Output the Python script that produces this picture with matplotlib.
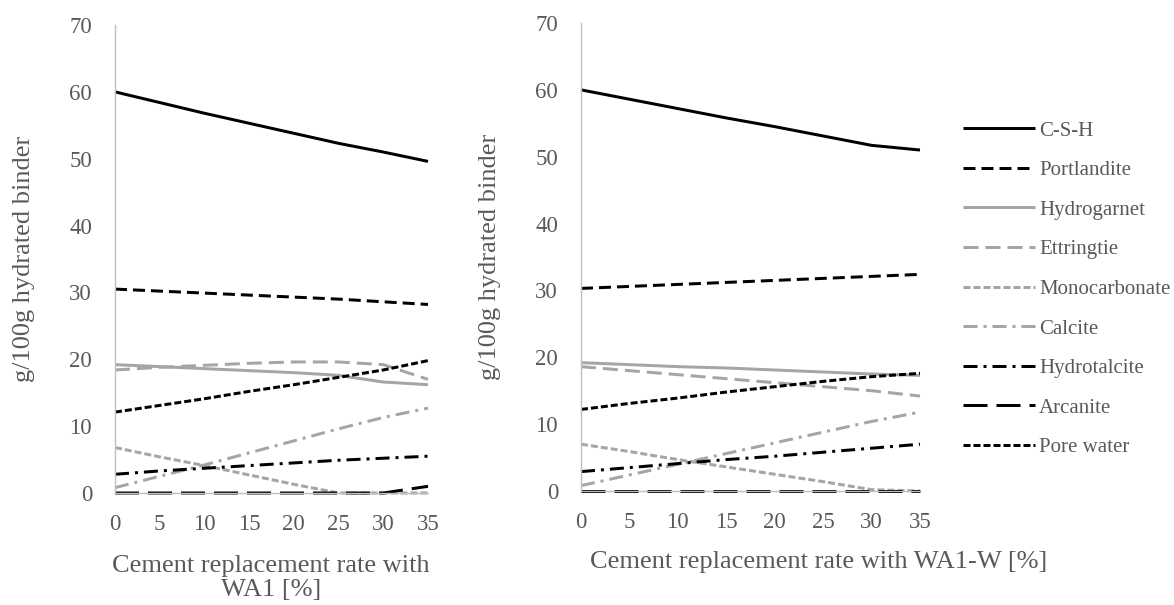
import matplotlib
matplotlib.use("Agg")
import matplotlib.pyplot as plt

plt.rcParams['font.family'] = ['Liberation Serif', 'DejaVu Serif']
plt.rcParams['lines.scale_dashes'] = False

rates = [0, 5, 10, 15, 20, 25, 30, 35]
x_ticks = [0, 5, 10, 15, 20, 25, 30, 35]
y_ticks = [0, 10, 20, 30, 40, 50, 60, 70]

names = ["C-S-H", "Portlandite", "Hydrogarnet", "Ettringtie", "Monocarbonate",
         "Calcite", "Hydrotalcite", "Arcanite", "Pore water"]

# WA1 (left)
csh_wa1 = [60.0, 58.4, 56.8, 55.3, 53.8, 52.3, 51.0, 49.6]
port_wa1 = [30.5, 30.2, 29.9, 29.6, 29.3, 29.0, 28.6, 28.2]
hydg_wa1 = [19.2, 18.9, 18.6, 18.3, 18.0, 17.6, 16.6, 16.2]
ettr_wa1 = [18.4, 18.8, 19.1, 19.4, 19.6, 19.6, 19.2, 17.0]
mono_wa1 = [6.8, 5.4, 4.1, 2.7, 1.3, 0.0, 0.0, 0.0]
calc_wa1 = [0.8, 2.5, 4.2, 6.0, 7.8, 9.6, 11.3, 12.7]
htal_wa1 = [2.8, 3.3, 3.7, 4.1, 4.5, 4.9, 5.2, 5.5]
arca_wa1 = [0.0, 0.0, 0.0, 0.0, 0.0, 0.0, 0.0, 1.0]
pore_wa1 = [12.1, 13.1, 14.1, 15.2, 16.2, 17.3, 18.4, 19.8]

# WA1-W (right)
csh_wa1w = [60.0, 58.6, 57.2, 55.8, 54.5, 53.1, 51.7, 51.0]
port_wa1w = [30.3, 30.6, 30.9, 31.2, 31.5, 31.8, 32.1, 32.4]
hydg_wa1w = [19.2, 18.9, 18.6, 18.4, 18.1, 17.8, 17.5, 17.3]
ettr_wa1w = [18.6, 18.0, 17.4, 16.8, 16.2, 15.6, 15.0, 14.2]
mono_wa1w = [7.0, 5.9, 4.7, 3.6, 2.5, 1.4, 0.2, 0.0]
calc_wa1w = [0.8, 2.4, 4.0, 5.6, 7.2, 8.8, 10.4, 11.8]
htal_wa1w = [2.9, 3.5, 4.1, 4.7, 5.2, 5.8, 6.4, 7.0]
arca_wa1w = [0.0, 0.0, 0.0, 0.0, 0.0, 0.0, 0.0, 0.0]
pore_wa1w = [12.2, 13.1, 13.9, 14.8, 15.6, 16.4, 17.1, 17.6]

BLACK = '#000000'
GREY = '#A5A5A5'
TXT = '#595959'
AXC = '#BFBFBF'
px = 0.72  # pixel -> point at dpi 100
styles = [
    (BLACK, None),
    (BLACK, (0, (12 * px, 6 * px))),
    (GREY, None),
    (GREY, (0, (15 * px, 7 * px))),
    (GREY, (0, (7 * px, 3 * px))),
    (GREY, (0, (14 * px, 6 * px, 3 * px, 6 * px))),
    (BLACK, (0, (14 * px, 6 * px, 3 * px, 6 * px))),
    (BLACK, (0, (24 * px, 9 * px))),
    (BLACK, (0, (7 * px, 3 * px))),
]

W, H = 1174, 605
fig = plt.figure(figsize=(W / 100, H / 100), dpi=100)

TICK_FS = 16.5
TITLE_FS = 19
LEG_FS = 15


def rect(l, r, t, b):
    return [l / W, 1 - b / H, (r - l) / W, (b - t) / H]


def fx(x):
    return x / W


def fy(y):
    return 1 - y / H


def setup(ax):
    ax.set_xlim(0, 35)
    ax.set_ylim(0, 70)
    ax.set_xticks(x_ticks)
    ax.set_yticks(y_ticks)
    for s in ['top', 'right']:
        ax.spines[s].set_visible(False)
    for s in ['left', 'bottom']:
        ax.spines[s].set_color(AXC)
        ax.spines[s].set_linewidth(1.0)
    ax.tick_params(length=0, labelsize=TICK_FS, labelcolor=TXT)
    ax.tick_params(axis='x', pad=15)
    ax.tick_params(axis='y', pad=16.5)


ax1 = fig.add_axes(rect(115, 428, 25, 493))
ax2 = fig.add_axes(rect(581, 920, 23, 491))

left = [csh_wa1, port_wa1, hydg_wa1, ettr_wa1, mono_wa1, calc_wa1, htal_wa1, arca_wa1, pore_wa1]
right = [csh_wa1w, port_wa1w, hydg_wa1w, ettr_wa1w, mono_wa1w, calc_wa1w, htal_wa1w, arca_wa1w, pore_wa1w]

handles = []
for ax, data in [(ax1, left), (ax2, right)]:
    setup(ax)
    hs = []
    for name, vals, (c, ls) in zip(names, data, styles):
        kw = dict(color=c, lw=2.16, clip_on=False, solid_capstyle='butt', dash_capstyle='butt')
        if ls is not None:
            kw['linestyle'] = ls
        h, = ax.plot(rates, vals, label=name, **kw)
        hs.append(h)
    handles = hs

# axis titles
fig.text(fx(24), fy(259), "g/100g hydrated binder", rotation=90, ha='center', va='center',
         fontsize=TITLE_FS, color=TXT)
fig.text(fx(490), fy(257), "g/100g hydrated binder", rotation=90, ha='center', va='center',
         fontsize=TITLE_FS, color=TXT)
fig.text(fx(271), fy(578), "Cement replacement rate with\nWA1 [%]", ha='center', va='center',
         fontsize=TITLE_FS, color=TXT, linespacing=1.15, multialignment='center')
fig.text(fx(590), fy(562), "Cement replacement rate with WA1-W [%]", ha='left', va='center',
         fontsize=TITLE_FS, color=TXT)

fig.legend(handles=handles, labels=names, loc='upper left',
           bbox_to_anchor=(fx(963), fy(121)), frameon=False,
           fontsize=LEG_FS, labelcolor=TXT, handlelength=72 / 20.8, handletextpad=4 / 20.8,
           labelspacing=0.96, borderaxespad=0, borderpad=0)

fig.savefig("out.png", dpi=100)
